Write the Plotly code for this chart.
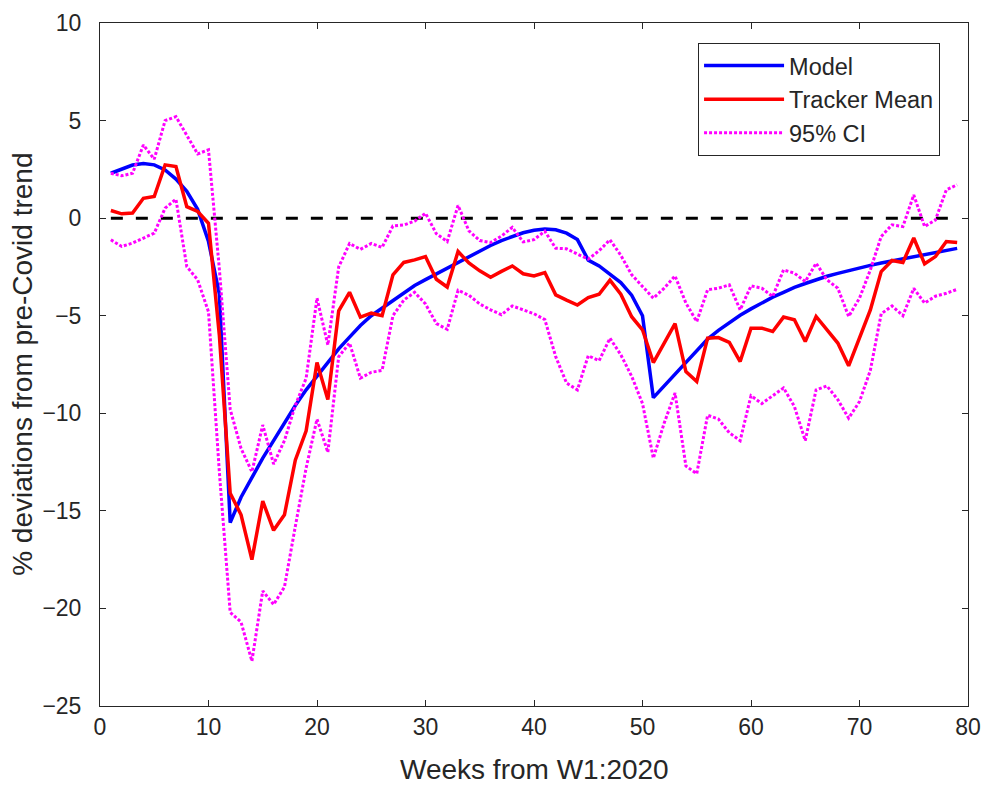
import plotly.graph_objects as go

weeks = list(range(1, 80))

model = [2.3, 2.52, 2.72, 2.8, 2.73, 2.47, 2.0, 1.37, 0.45, -1.2,
         -3.9, -15.6, -14.3, -13.3, -12.3, -11.4, -10.5, -9.6, -8.8, -8.1,
         -7.4, -6.7, -6.1, -5.5, -5.0, -4.6, -4.2, -3.8, -3.45, -3.15,
         -2.85, -2.55, -2.25, -1.95, -1.7, -1.4, -1.15, -0.95, -0.75, -0.62,
         -0.56, -0.6, -0.77, -1.1, -2.15, -2.45, -2.85, -3.3, -3.95, -5.0,
         -9.2, -8.6, -8.0, -7.4, -6.8, -6.2, -5.75, -5.35, -4.98, -4.65,
         -4.33, -4.05, -3.8, -3.55, -3.35, -3.15, -2.98, -2.83, -2.68, -2.55,
         -2.42, -2.3, -2.19, -2.08, -1.98, -1.87, -1.76, -1.65, -1.55]

tracker_mean = [0.39, 0.22, 0.26, 1.02, 1.11, 2.73, 2.64, 0.59, 0.34, -0.26,
                -6.0, -14.1, -15.2, -17.5, -14.5, -16.0, -15.2, -12.4, -10.9, -7.4,
                -9.3, -4.75, -3.8, -5.07, -4.87, -5.0, -2.9, -2.27, -2.14, -1.97,
                -3.13, -3.53, -1.71, -2.3, -2.7, -3.03, -2.73, -2.45, -2.85, -2.96,
                -2.79, -3.93, -4.2, -4.45, -4.07, -3.9, -3.18, -3.9, -5.05, -5.72,
                -7.4, -6.4, -5.41, -7.86, -8.37, -6.15, -6.12, -6.37, -7.35, -5.64,
                -5.64, -5.81, -5.07, -5.21, -6.32, -5.04, -5.69, -6.4, -7.57, -6.15,
                -4.7, -2.74, -2.17, -2.27, -1.02, -2.34, -1.97, -1.2, -1.25]

ci_upper = [2.3, 2.17, 2.3, 3.75, 3.02, 5.0, 5.2, 4.27, 3.29, 3.5,
            -2.6, -9.8, -11.8, -13.0, -10.6, -12.6, -11.4, -9.6, -8.2, -4.1,
            -6.5, -2.5, -1.3, -1.6, -1.3, -1.5, -0.4, -0.35, -0.15, 0.25,
            -0.8, -1.2, 0.65, -0.65, -1.15, -1.25, -0.92, -0.47, -1.22, -1.1,
            -0.67, -1.54, -1.57, -1.84, -2.1, -1.67, -1.11, -1.9, -2.9, -3.5,
            -4.1, -3.59, -2.96, -4.35, -5.3, -3.67, -3.59, -3.42, -4.7, -3.47,
            -3.59, -4.02, -2.65, -2.82, -3.25, -2.31, -3.16, -3.59, -5.04, -4.1,
            -2.65, -0.94, -0.34, -0.43, 1.19, -0.43, -0.09, 1.45, 1.71]

ci_lower = [-1.11, -1.45, -1.28, -1.02, -0.77, 0.51, 0.97, -2.48, -3.16, -4.8,
            -13.0, -20.2, -20.7, -22.7, -19.1, -19.8, -18.9, -15.8, -12.8, -10.3,
            -12.0, -7.1, -6.4, -8.2, -7.9, -7.8, -5.0, -4.2, -3.8, -4.4,
            -5.4, -5.7, -3.7, -3.95, -4.4, -4.7, -4.95, -4.5, -4.7, -4.9,
            -5.2, -7.1, -8.45, -8.8, -7.05, -7.3, -6.15, -7.0, -8.1, -9.5,
            -12.3, -10.5, -8.96, -12.7, -13.1, -10.1, -10.3, -11.0, -11.4, -9.1,
            -9.5, -9.1, -8.7, -9.65, -11.4, -8.8, -8.6, -9.3, -10.25, -9.4,
            -7.8, -4.9, -4.5, -5.0, -3.6, -4.35, -4.0, -3.85, -3.65]

zero_line = [0.0] * len(weeks)

x_ticks = [0, 10, 20, 30, 40, 50, 60, 70, 80]
y_ticks = [-25, -20, -15, -10, -5, 0, 5, 10]

x_title = "Weeks from W1:2020"
y_title = "% deviations from pre-Covid trend"

FONT = "Liberation Sans, Arial, Helvetica, sans-serif"
TXT = "#262626"

fig = go.Figure()
fig.add_trace(go.Scatter(x=weeks, y=zero_line, mode="lines", showlegend=False,
                         line=dict(color="black", width=3, dash="12px,13px"),
                         hoverinfo="skip"))
fig.add_trace(go.Scatter(x=weeks, y=model, mode="lines", name="Model",
                         line=dict(color="#0000FF", width=3.5), legendrank=1))
fig.add_trace(go.Scatter(x=weeks, y=tracker_mean, mode="lines", name="Tracker Mean",
                         line=dict(color="#FF0000", width=3.5), legendrank=2))
fig.add_trace(go.Scatter(x=weeks, y=ci_upper, mode="lines", name="95% CI",
                         line=dict(color="#FF00FF", width=3, dash="3px,2px"), legendrank=3))
fig.add_trace(go.Scatter(x=weeks, y=ci_lower, mode="lines", name="95% CI lower",
                         showlegend=False,
                         line=dict(color="#FF00FF", width=3, dash="3px,2px")))

axis_common = dict(showgrid=False, zeroline=False, showline=True, linecolor=TXT,
                   linewidth=1, mirror="ticks", ticks="inside", ticklen=6,
                   tickcolor=TXT, automargin=False,
                   tickfont=dict(family=FONT, size=23, color=TXT))

fig.update_layout(
    width=987, height=787,
    paper_bgcolor="white", plot_bgcolor="white",
    margin=dict(l=100, r=19, t=23, b=81),
    font=dict(family=FONT, color=TXT),
    xaxis=dict(range=[0, 80], tickvals=x_ticks, ticklabelstandoff=0, **axis_common),
    yaxis=dict(range=[-25, 10], tickvals=y_ticks, ticklabelstandoff=13, **axis_common),
    legend=dict(x=0.689, y=0.971, xanchor="left", yanchor="top",
                bgcolor="white", bordercolor=TXT, borderwidth=1,
                font=dict(family=FONT, size=23.5, color=TXT),
                itemwidth=80, tracegroupgap=0),
    showlegend=True,
    annotations=[
        dict(text=x_title, xref="paper", yref="paper", x=0.5, y=-0.093,
             xanchor="center", yanchor="middle", showarrow=False,
             font=dict(family=FONT, size=28, color=TXT)),
        dict(text=y_title, xref="paper", yref="paper", x=-0.0895, y=0.5,
             xanchor="center", yanchor="middle", showarrow=False, textangle=-90,
             font=dict(family=FONT, size=28, color=TXT)),
    ],
)

fig.write_html("out.html", config={"displayModeBar": False},
               post_script="document.body.style.margin='0';document.body.style.overflow='hidden';")
